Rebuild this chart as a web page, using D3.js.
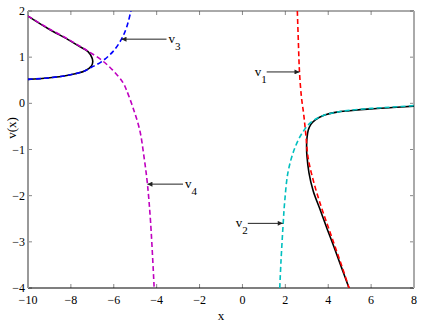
<!DOCTYPE html>
<html>
<head>
<meta charset="utf-8">
<script src="https://cdn.jsdelivr.net/npm/d3@7"></script>
<style>
  body { margin: 0; background: #fff; }
  text { font-family: "Liberation Serif", "Times New Roman", serif; }
</style>
</head>
<body>
<div id="chart"></div>
<script>
// curve points, [x, v]
const solidLeft = [[-10,1.89],[-9.07,1.62],[-8.13,1.38],[-7.59,1.23],[-7.2,1.12],[-7.02,0.99],[-6.98,0.9],[-7.04,0.81],[-7.36,0.70],[-8.13,0.61],[-9.07,0.55],[-10,0.52]];
const solidRight = [[8,-0.06],[7,-0.09],[6,-0.12],[5,-0.16],[4.4,-0.19],[3.8,-0.26],[3.4,-0.36],[3.2,-0.45],[3.07,-0.58],[3.01,-0.75],[2.99,-0.95],[3.01,-1.15],[3.1,-1.5],[3.3,-1.9],[3.62,-2.3],[3.95,-2.72],[4.3,-3.15],[4.63,-3.57],[4.97,-4.0]];
const v1 = [[2.56,2.0],[2.61,1.3],[2.66,0.68],[2.75,0.14],[2.86,-0.25],[2.96,-0.7],[3.07,-1.2],[3.35,-1.75],[3.68,-2.25],[4.0,-2.68],[4.33,-3.12],[4.66,-3.56],[4.97,-4.0]];
const v2 = [[1.74,-4.0],[1.8,-3.4],[1.9,-2.6],[1.97,-2.13],[2.13,-1.48],[2.44,-0.97],[2.83,-0.61],[3.22,-0.40],[3.8,-0.26],[4.4,-0.19],[5,-0.15],[6,-0.11],[7,-0.08],[8,-0.05]];
const v3 = [[-10,0.52],[-9.07,0.55],[-8.13,0.61],[-7.36,0.70],[-7.04,0.78],[-6.58,0.90],[-6.04,1.12],[-5.64,1.39],[-5.4,1.65],[-5.2,2.0]];
const v4 = [[-10,1.89],[-9.07,1.63],[-8.13,1.39],[-7.59,1.24],[-7.2,1.13],[-6.58,0.94],[-6.05,0.72],[-5.57,0.45],[-5.41,0.29],[-5.1,-0.1],[-4.79,-0.58],[-4.59,-1.16],[-4.43,-1.75],[-4.28,-2.6],[-4.12,-3.97]];

const dashedSeries = [v1, v2, v3, v4];
const dashedColors = ["#ff0000", "#00bfbf", "#0000ff", "#bf00bf"];

// arrow annotations: subscript, arrow tip (x, v), tail x
const labelSubs = ["1", "2", "3", "4"];
const arrowTipX = [2.66, 1.88, -5.64, -4.43];
const arrowTipY = [0.68, -2.6, 1.39, -1.75];
const arrowTailX = [1.13, 0.25, -3.54, -2.77];

const xTicks = [-10, -8, -6, -4, -2, 0, 2, 4, 6, 8];
const yTicks = [2, 1, 0, -1, -2, -3, -4];

const width = 425, height = 327;
const margin = {top: 11, right: 11, bottom: 39, left: 28};

const svg = d3.select("#chart").append("svg")
    .attr("width", width)
    .attr("height", height);

const x = d3.scaleLinear().domain([-10, 8]).range([margin.left, width - margin.right]);
const y = d3.scaleLinear().domain([-4, 2]).range([height - margin.bottom, margin.top]);

const fmt = d => (d < 0 ? "\u2212" + Math.abs(d) : String(d));

svg.append("defs").append("clipPath").attr("id", "plot")
  .append("rect")
    .attr("x", x(-10)).attr("y", y(2))
    .attr("width", x(8) - x(-10)).attr("height", y(-4) - y(2));

// ticks (inside, all four sides)
const tickG = svg.append("g").attr("stroke", "#888").attr("stroke-width", 1);
xTicks.forEach(t => {
  tickG.append("line").attr("x1", x(t)).attr("x2", x(t)).attr("y1", y(-4)).attr("y2", y(-4) - 4);
  tickG.append("line").attr("x1", x(t)).attr("x2", x(t)).attr("y1", y(2)).attr("y2", y(2) + 4);
});
yTicks.forEach(t => {
  tickG.append("line").attr("x1", x(-10)).attr("x2", x(-10) + 4).attr("y1", y(t)).attr("y2", y(t));
  tickG.append("line").attr("x1", x(8)).attr("x2", x(8) - 4).attr("y1", y(t)).attr("y2", y(t));
});

// box
svg.append("line").attr("x1", x(-10)).attr("x2", x(8)).attr("y1", y(2)).attr("y2", y(2))
    .attr("stroke", "#555").attr("stroke-width", 1);
svg.append("line").attr("x1", x(-10)).attr("x2", x(8)).attr("y1", y(-4)).attr("y2", y(-4))
    .attr("stroke", "#000").attr("stroke-width", 1.2);
svg.append("line").attr("x1", x(-10)).attr("x2", x(-10)).attr("y1", y(2)).attr("y2", y(-4))
    .attr("stroke", "#999").attr("stroke-width", 2);
svg.append("line").attr("x1", x(8)).attr("x2", x(8)).attr("y1", y(2)).attr("y2", y(-4))
    .attr("stroke", "#aaa").attr("stroke-width", 2);

// tick labels
svg.append("g").selectAll("text").data(xTicks).join("text")
    .attr("x", d => x(d)).attr("y", y(-4) + 16)
    .attr("text-anchor", "middle").attr("font-size", 12)
    .text(fmt);
svg.append("g").selectAll("text").data(yTicks).join("text")
    .attr("x", x(-10) - 3).attr("y", d => y(d) + 4)
    .attr("text-anchor", "end").attr("font-size", 12)
    .text(fmt);

// axis labels
svg.append("text").attr("x", (x(-10) + x(8)) / 2).attr("y", 320)
    .attr("text-anchor", "middle").attr("font-size", 13).text("x");
svg.append("text").attr("transform", "translate(16,128) rotate(-90)")
    .attr("text-anchor", "middle").attr("font-size", 13).text("v(x)");

const line = d3.line()
    .x(d => x(d[0])).y(d => y(d[1]))
    .curve(d3.curveCatmullRom.alpha(0.5));

const plot = svg.append("g").attr("clip-path", "url(#plot)");

[solidLeft, solidRight].forEach(s => {
  plot.append("path").attr("d", line(s))
      .attr("fill", "none").attr("stroke", "#000").attr("stroke-width", 1.6);
});

dashedSeries.forEach((s, i) => {
  plot.append("path").attr("d", line(s))
      .attr("fill", "none").attr("stroke", dashedColors[i])
      .attr("stroke-width", 1.6).attr("stroke-dasharray", "5,3");
});

// arrows with labels
svg.append("defs").append("marker")
    .attr("id", "head").attr("viewBox", "0 0 10 10")
    .attr("refX", 10).attr("refY", 5)
    .attr("markerWidth", 6).attr("markerHeight", 5)
    .attr("markerUnits", "userSpaceOnUse")
    .attr("orient", "auto")
  .append("path").attr("d", "M0,0L10,5L0,10z").attr("fill", "#222");

labelSubs.forEach((sub, i) => {
  const tx = x(arrowTailX[i]), ty = y(arrowTipY[i]);
  svg.append("line")
      .attr("x1", tx).attr("y1", ty)
      .attr("x2", x(arrowTipX[i])).attr("y2", ty)
      .attr("stroke", "#222").attr("stroke-width", 1)
      .attr("marker-end", "url(#head)");
  const pointsRight = arrowTipX[i] > arrowTailX[i];
  const t = svg.append("text")
      .attr("x", pointsRight ? tx : tx + 2)
      .attr("y", ty + 4)
      .attr("text-anchor", pointsRight ? "end" : "start")
      .attr("font-size", 13);
  t.append("tspan").text("v");
  t.append("tspan").attr("dy", 7).attr("font-size", 11).text(sub);
});
</script>
</body>
</html>
